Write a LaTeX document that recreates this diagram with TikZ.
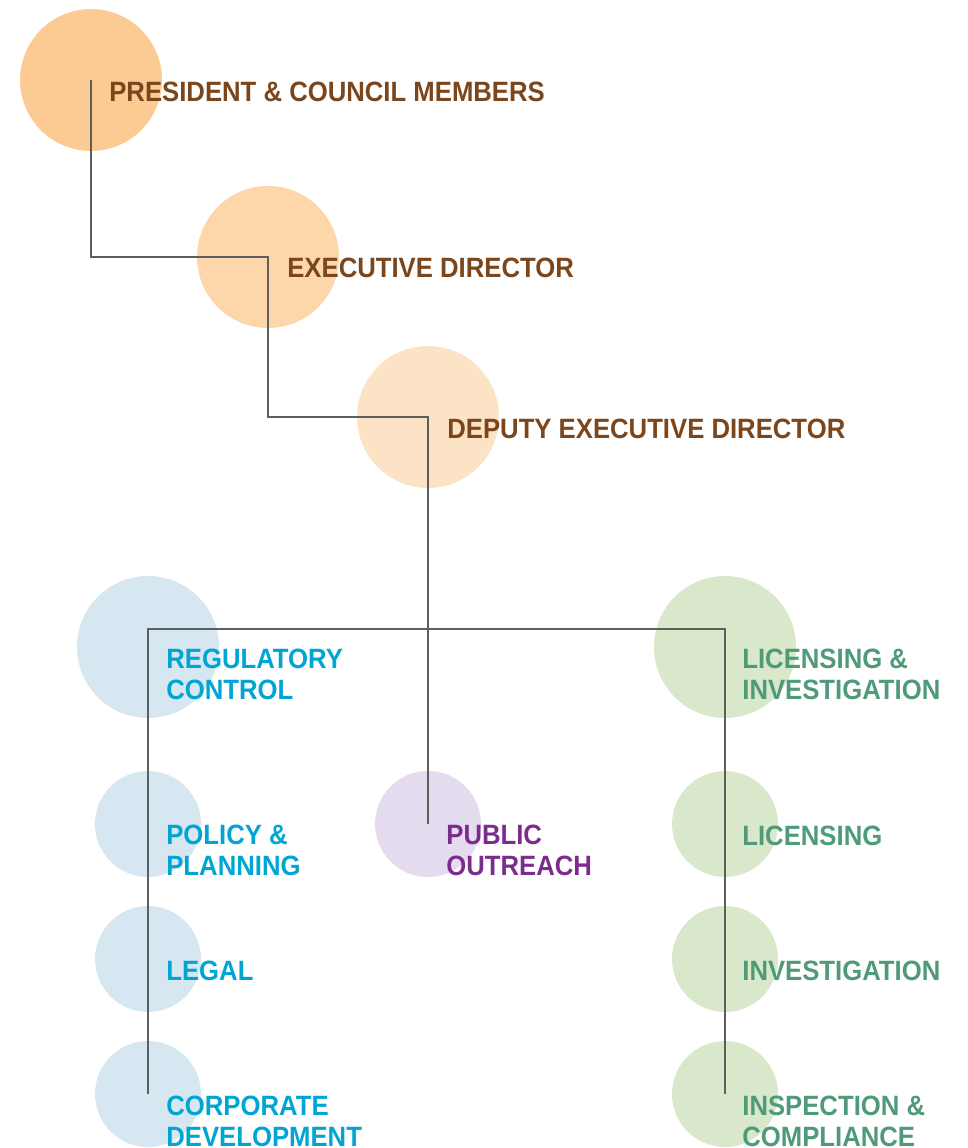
\documentclass[tikz,border=0pt]{standalone}
\usepackage{fontspec}
\setmainfont{Liberation Sans}[FakeStretch=0.92]

\definecolor{presfill}{HTML}{FCCB94}
\definecolor{execfill}{HTML}{FDD6AA}
\definecolor{depfill}{HTML}{FDE3C5}
\definecolor{bluefill}{HTML}{D6E7F2}
\definecolor{greenfill}{HTML}{D9E7CB}
\definecolor{purplefill}{HTML}{E4DCEE}
\definecolor{browntext}{HTML}{7B461C}
\definecolor{bluetext}{HTML}{00A5D3}
\definecolor{greentext}{HTML}{4F9A78}
\definecolor{purpletext}{HTML}{7B2C8D}
\definecolor{linegray}{HTML}{5E5E5E}

\begin{document}
\begin{tikzpicture}[x=0.02cm, y=-0.02cm,
        bubble/.style={circle, draw=none, inner sep=0pt},
        big/.style={bubble, minimum size=2.84cm},
        small/.style={bubble, minimum size=2.12cm},
        lbl/.style={anchor=base west, inner sep=0pt, align=left,
            font=\bfseries\fontsize{15.9}{17.6}\selectfont},
        link/.style={draw=linegray, line width=0.6pt}]
    \useasboundingbox (0, 0) rectangle (967, 1148);

    % Leitung
    \node[big, fill=presfill] (pres) at (91, 80) {};
    \node[big, fill=execfill] (exec) at (268, 257) {};
    \node[big, fill=depfill] (dep) at (428, 417) {};

    % Abteilungen
    \node[big, fill=bluefill] (reg) at (148, 647) {};
    \node[small, fill=bluefill] (pol) at (148, 824) {};
    \node[small, fill=bluefill] (leg) at (148, 959) {};
    \node[small, fill=bluefill] (corp) at (148, 1094) {};
    \node[small, fill=purplefill] (pub) at (428, 824) {};
    \node[big, fill=greenfill] (lic) at (725, 647) {};
    \node[small, fill=greenfill] (licn) at (725, 824) {};
    \node[small, fill=greenfill] (inv) at (725, 959) {};
    \node[small, fill=greenfill] (insp) at (725, 1094) {};

    % Verbindungen
    \coordinate (bar) at (428, 629);
    \draw[link] (pres.center) |- (exec.center) |- (dep.center) -- (pub.center);
    \draw[link] (corp.center) |- (bar) -| (insp.center);

    % Beschriftungen (base = letzte Zeile)
    \node[lbl, text=browntext] (presT) at (109, 102) {PRESIDENT \& COUNCIL MEMBERS};
    \node[lbl, text=browntext] (execT) at (287, 278) {EXECUTIVE DIRECTOR};
    \node[lbl, text=browntext] (depT) at (447, 438) {DEPUTY EXECUTIVE DIRECTOR};

    \node[lbl, text=bluetext] (regT) at (166, 699) {REGULATORY\\CONTROL};
    \node[lbl, text=bluetext] (polT) at (166, 875) {POLICY \&\\PLANNING};
    \node[lbl, text=bluetext] (legT) at (166, 980) {LEGAL};
    \node[lbl, text=bluetext] (corpT) at (166, 1146) {CORPORATE\\DEVELOPMENT};

    \node[lbl, text=purpletext] (pubT) at (446, 875) {PUBLIC\\OUTREACH};

    \node[lbl, text=greentext] (licT) at (742, 699) {LICENSING \&\\INVESTIGATION};
    \node[lbl, text=greentext] (licnT) at (742, 845) {LICENSING};
    \node[lbl, text=greentext] (invT) at (742, 980) {INVESTIGATION};
    \node[lbl, text=greentext] (inspT) at (742, 1146) {INSPECTION \&\\COMPLIANCE};
\end{tikzpicture}
\end{document}
